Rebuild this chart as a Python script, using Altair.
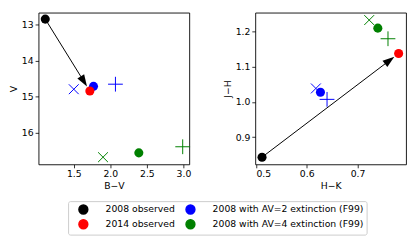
import math
import altair as alt
import pandas as pd

FONT = "DejaVu Sans"
FS = 9.4

series = ["2008 observed", "2014 observed",
          "2008 with AV=2 extinction (F99)", "2008 with AV=4 extinction (F99)"]
colors = ["black", "red", "blue", "green"]
ext_series = series[2:]

# left panel: B-V vs V (circles: black, red, blue, green)
bv_circle = [1.11, 1.72, 1.77, 2.39]
v_circle = [12.84, 14.84, 14.71, 16.56]
bv_x = [1.50, 1.90]
v_x = [14.79, 16.68]
bv_plus = [2.07, 2.99]
v_plus = [14.65, 16.39]

# right panel: H-K vs J-H
hk_circle = [0.512, 0.781, 0.627, 0.740]
jh_circle = [0.843, 1.137, 1.027, 1.209]
hk_x = [0.618, 0.723]
jh_x = [1.038, 1.232]
hk_plus = [0.640, 0.760]
jh_plus = [1.007, 1.179]

bv_domain = [1.018, 3.08]
v_domain = [12.66, 16.88]
hk_domain = [0.4987, 0.7955]
jh_domain = [0.8226, 1.253]

bv_ticks = [1.5, 2.0, 2.5, 3.0]
v_ticks = [13, 14, 15, 16]
hk_ticks = [0.5, 0.6, 0.7]
jh_ticks = [0.9, 1.0, 1.1, 1.2]

W, H = 153, 154
draw_order = [2, 3, 0, 1]

color_scale = alt.Scale(domain=series, range=colors)

legend = alt.Legend(
    orient="none", legendX=30, legendY=191.3, columns=2, title=None,
    symbolType="circle", symbolSize=81, gridAlign="each",
    labelFont=FONT, labelFontSize=FS, labelColor="black",
    padding=3, symbolOffset=7, labelOffset=17, columnPadding=2.7, rowPadding=0,
    strokeColor="#cccccc", fillColor="white", cornerRadius=2,
)

PLUS = "M-1,0L1,0M0,-1L0,1"
CROSS = "M-1,-1L1,1M-1,1L1,-1"
HEAD = "M0,-1L-0.67,1L0.67,1Z"


def arrow_df(x0, y0, x1, y1, xdom, ydom, yrev):
    sx = W / (xdom[1] - xdom[0])
    sy = H / (ydom[1] - ydom[0]) * (1 if yrev else -1)
    dxp = (x1 - x0) * sx
    dyp = (y1 - y0) * sy
    L = math.hypot(dxp, dyp)
    ux, uy = dxp / L, dyp / L
    cpx = L - 5.5 - 6
    cx = x0 + ux * cpx / sx
    cy = y0 + uy * cpx / sy
    ang = math.degrees(math.atan2(ux, -uy)) % 360
    return pd.DataFrame({"x": [x0], "y": [y0], "x2": [cx], "y2": [cy], "angle": [ang]})


def panel(cx, cy, xx, xy, px, py, xdom, ydom, yrev, xticks, yticks, xfmt, yfmt, xtitle, ytitle):
    circ = pd.DataFrame({"x": [cx[i] for i in draw_order], "y": [cy[i] for i in draw_order],
                         "s": [series[i] for i in draw_order]})
    xs = pd.DataFrame({"x": xx, "y": xy, "s": ext_series})
    ps = pd.DataFrame({"x": px, "y": py, "s": ext_series})
    arr = arrow_df(cx[0], cy[0], cx[1], cy[1], xdom, ydom, yrev)

    X = alt.X("x:Q", scale=alt.Scale(domain=xdom, nice=False, zero=False),
              axis=alt.Axis(values=xticks, format=xfmt, title=xtitle))
    yscale = alt.Scale(domain=ydom, nice=False, zero=False, reverse=yrev)
    Y = alt.Y("y:Q", scale=yscale, axis=alt.Axis(values=yticks, format=yfmt, title=ytitle))

    stroke = alt.Stroke("s:N", scale=color_scale, legend=None)
    lx = alt.Chart(xs).mark_point(shape=CROSS, size=100, filled=False, strokeWidth=1, opacity=1).encode(
        x=X, y=Y, stroke=stroke)
    lp = alt.Chart(ps).mark_point(shape=PLUS, size=225, filled=False, strokeWidth=1, opacity=1).encode(
        x=X, y=Y, stroke=stroke)
    lc = alt.Chart(circ).mark_circle(size=85, opacity=1).encode(
        x=X, y=Y, color=alt.Color("s:N", scale=color_scale, legend=legend))
    shaft = alt.Chart(arr).mark_rule(color="black", strokeWidth=1).encode(
        x="x:Q", y="y:Q", x2="x2:Q", y2="y2:Q")
    head = alt.Chart(arr).mark_point(shape=HEAD, size=144, filled=True, color="black", opacity=1,
                                     strokeWidth=0).encode(
        x=alt.X("x2:Q"), y=alt.Y("y2:Q"), angle=alt.Angle("angle:Q", scale=None))
    return alt.layer(lc, lx, lp, shaft, head).properties(width=W, height=H)


left = panel(bv_circle, v_circle, bv_x, v_x, bv_plus, v_plus, bv_domain, v_domain, True,
             bv_ticks, v_ticks, ".1f", "d", "B−V", "V")
right = panel(hk_circle, jh_circle, hk_x, jh_x, hk_plus, jh_plus, hk_domain, jh_domain, False,
              hk_ticks, jh_ticks, ".1f", ".1f", "H−K", "J−H")

chart = alt.hconcat(left, right, spacing=29).properties(
    padding={"left": 0, "top": 2, "right": 0, "bottom": 0}
).configure_view(stroke="black", strokeWidth=0.9).configure_axis(
    labelFont=FONT, titleFont=FONT, labelFontSize=FS, titleFontSize=FS,
    titleFontWeight="normal", labelColor="black", titleColor="black",
    tickColor="black", tickSize=3.5, tickWidth=0.8, domain=False, grid=False,
    labelPadding=2, titlePadding=3,
).configure_axisX(titlePadding=4)

chart.save("out.html", embed_options={"renderer": "svg", "actions": False})
